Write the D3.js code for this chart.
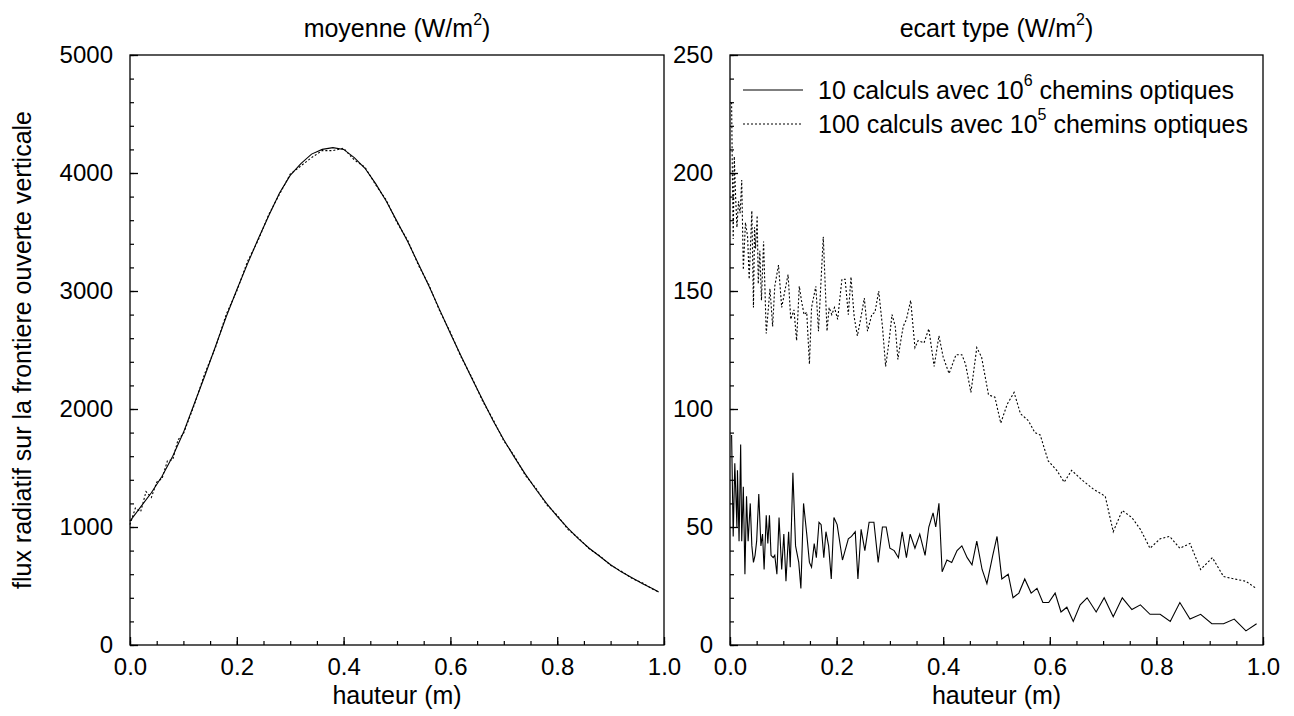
<!DOCTYPE html>
<html><head><meta charset="utf-8">
<script src="https://cdn.jsdelivr.net/npm/d3@7"></script>
<style>
html,body{margin:0;padding:0;background:#fff;}
text{font-family:"Liberation Sans",Arial,Helvetica,sans-serif;fill:#000;}
</style></head>
<body>
<svg id="chart" width="1294" height="716"></svg>
<script>
// ---------- DATA ----------
const xTickLabels = ["0.0","0.2","0.4","0.6","0.8","1.0"];
const xTicks = [0,0.2,0.4,0.6,0.8,1.0];
const yTicksLeft = [0,1000,2000,3000,4000,5000];
const yTicksRight = [0,50,100,150,200,250];

const titleLeft = "moyenne (W/m";
const titleRight = "ecart type (W/m";
const xLabel = "hauteur (m)";
const yLabel = "flux radiatif sur la frontiere ouverte verticale";
const legendLabels = [["10 calculs avec 10","6"," chemins optiques"],["100 calculs avec 10","5"," chemins optiques"]];

// mean flux, 10 runs x 1e6 paths (solid)
const meanSolidH = [0,0.02,0.04,0.06,0.08,0.10,0.12,0.14,0.16,0.18,0.20,0.22,0.24,0.26,0.28,0.30,0.32,0.34,0.36,0.38,0.40,0.42,0.44,0.46,0.48,0.50,0.52,0.54,0.56,0.58,0.60,0.62,0.64,0.66,0.68,0.70,0.72,0.74,0.76,0.78,0.80,0.82,0.84,0.86,0.88,0.90,0.92,0.94,0.96,0.98,0.99];
const meanSolid  = [1050,1170,1290,1430,1600,1800,2040,2280,2530,2780,3010,3230,3440,3640,3830,3980,4080,4160,4200,4215,4200,4130,4040,3910,3760,3590,3420,3230,3040,2840,2640,2450,2260,2080,1900,1740,1590,1450,1320,1200,1090,990,900,820,750,680,620,570,520,475,450];
// mean flux, 100 runs x 1e5 paths (dotted)
const meanDottedH = [0,0.01,0.02,0.03,0.04,0.05,0.06,0.07,0.08,0.09,0.10,0.12,0.14,0.16,0.18,0.20,0.22,0.24,0.26,0.28,0.30,0.32,0.34,0.36,0.38,0.40,0.42,0.44,0.46,0.48,0.50,0.52,0.54,0.56,0.58,0.60,0.62,0.64,0.66,0.68,0.70,0.72,0.74,0.76,0.78,0.80,0.82,0.84,0.86,0.88,0.90,0.92,0.94,0.96,0.98,0.99];
const meanDotted  = [1020,1160,1130,1300,1250,1380,1410,1560,1570,1740,1790,2030,2300,2520,2800,3000,3250,3430,3650,3820,3990,4060,4130,4190,4190,4210,4110,4050,3900,3770,3580,3430,3220,3050,2830,2650,2440,2270,2070,1910,1730,1600,1440,1330,1190,1100,980,905,815,755,675,625,565,525,470,450];

// standard deviation, 10 runs x 1e6 paths (solid)
const stdSolidH = [0.003,0.006,0.009,0.013,0.014,0.017,0.020,0.022,0.025,0.028,0.031,0.034,0.038,0.041,0.044,0.047,0.050,0.054,0.058,0.061,0.064,0.068,0.071,0.074,0.077,0.081,0.084,0.088,0.092,0.097,0.101,0.105,0.110,0.113,0.118,0.123,0.129,0.133,0.138,0.144,0.149,0.153,0.158,0.162,0.167,0.171,0.176,0.180,0.185,0.190,0.195,0.201,0.211,0.222,0.228,0.235,0.240,0.246,0.253,0.261,0.270,0.278,0.286,0.293,0.300,0.308,0.316,0.323,0.331,0.338,0.347,0.356,0.366,0.373,0.381,0.386,0.392,0.398,0.407,0.416,0.426,0.435,0.445,0.454,0.463,0.473,0.482,0.493,0.501,0.510,0.522,0.531,0.542,0.553,0.565,0.576,0.587,0.598,0.610,0.621,0.632,0.644,0.657,0.670,0.687,0.702,0.719,0.736,0.754,0.770,0.788,0.807,0.826,0.844,0.863,0.883,0.904,0.926,0.946,0.968,0.988];
const stdSolid  = [89,46,77,50,74,44,85,44,67,30,63,44,60,42,35,38,44,64,42,47,32,55,43,55,38,37,38,30,54,32,47,27,48,33,73,42,35,24,60,47,35,33,43,37,52,51,37,48,42,28,54,51,36,45,46,48,28,49,40,52,52,35,50,50,41,40,37,48,37,47,41,47,38,50,56,50,60,31,36,35,40,42,37,34,44,32,26,38,46,28,30,20,22,28,22,24,18,18,22,14,16,10,17,20,14,20,12,20,15,17,13,13,10,18,11,13,9,9,11,6,9];
// standard deviation, 100 runs x 1e5 paths (dotted)
const stdDottedH = [0.003,0.004,0.006,0.008,0.010,0.013,0.016,0.019,0.022,0.025,0.029,0.033,0.036,0.041,0.044,0.046,0.048,0.051,0.053,0.056,0.059,0.063,0.068,0.071,0.075,0.080,0.084,0.091,0.097,0.102,0.109,0.114,0.120,0.125,0.130,0.134,0.139,0.144,0.149,0.153,0.161,0.166,0.175,0.182,0.186,0.191,0.196,0.202,0.210,0.216,0.222,0.227,0.233,0.239,0.245,0.252,0.258,0.266,0.272,0.279,0.286,0.292,0.298,0.304,0.310,0.315,0.319,0.325,0.331,0.339,0.347,0.353,0.364,0.373,0.383,0.392,0.400,0.411,0.424,0.435,0.442,0.452,0.463,0.472,0.485,0.497,0.508,0.520,0.533,0.545,0.560,0.572,0.582,0.597,0.613,0.627,0.641,0.660,0.682,0.704,0.719,0.736,0.754,0.770,0.788,0.807,0.825,0.844,0.863,0.883,0.905,0.926,0.946,0.968,0.987];
const stdDotted  = [230,209,172,207,193,177,188,183,197,159,179,173,155,184,143,177,168,182,153,167,146,171,132,140,151,135,152,161,143,149,157,138,142,129,152,146,140,141,119,143,152,133,173,133,143,140,143,138,155,155,140,156,139,131,138,147,133,140,141,150,135,118,128,140,135,121,127,135,138,146,126,129,128,134,118,131,122,115,123,123,119,107,126,122,106,105,94,102,107,98,95,90,89,78,74,69,74,70,66,63,48,57,54,49,41,45,46,41,43,32,37,29,28,27,24];

// ---------- DRAW ----------
const svg = d3.select("#chart");
const plotTop = 55, plotBottom = 645;
const panels = [
  {x0:130, x1:664, ymax:5000, yTicks:yTicksLeft, minorStep:200, title:titleLeft,
   series:[{h:meanSolidH,v:meanSolid,dash:null},{h:meanDottedH,v:meanDotted,dash:"2,2"}]},
  {x0:730, x1:1263, ymax:250, yTicks:yTicksRight, minorStep:10, title:titleRight,
   series:[{h:stdSolidH,v:stdSolid,dash:null},{h:stdDottedH,v:stdDotted,dash:"2,2"}]}
];
const FS_TICK = 24, FS = 25, FS_SUP = 16;

panels.forEach((p,pi)=>{
  const x = d3.scaleLinear().domain([0,1]).range([p.x0,p.x1]);
  const y = d3.scaleLinear().domain([0,p.ymax]).range([plotBottom,plotTop]);
  const g = svg.append("g");

  g.append("rect").attr("x",p.x0).attr("y",plotTop).attr("width",p.x1-p.x0).attr("height",plotBottom-plotTop)
   .attr("fill","none").attr("stroke","#000").attr("stroke-width",1.3);

  const xMinor = d3.range(0,1.0001,0.05);
  g.append("g").attr("transform",`translate(0,${plotBottom})`)
   .call(d3.axisBottom(x).tickValues(xMinor).tickSizeInner(-4).tickSizeOuter(0).tickFormat(""))
   .call(s=>s.select(".domain").remove())
   .call(s=>s.selectAll("line").attr("stroke","#000").attr("stroke-width",1.2));
  const yMinor = d3.range(0,p.ymax+0.001,p.minorStep);
  g.append("g").attr("transform",`translate(${p.x0},0)`)
   .call(d3.axisLeft(y).tickValues(yMinor).tickSizeInner(-4).tickSizeOuter(0).tickFormat(""))
   .call(s=>s.select(".domain").remove())
   .call(s=>s.selectAll("line").attr("stroke","#000").attr("stroke-width",1.2));

  g.append("g").attr("transform",`translate(0,${plotBottom})`)
   .call(d3.axisBottom(x).tickValues(xTicks).tickSizeInner(-8).tickSizeOuter(0).tickPadding(13)
        .tickFormat((d,i)=>xTickLabels[i]))
   .call(s=>s.select(".domain").remove())
   .call(s=>s.selectAll("line").attr("stroke","#000").attr("stroke-width",1.3))
   .call(s=>s.selectAll("text").attr("font-size",FS_TICK).attr("font-family",null).attr("fill","#000"));
  g.append("g").attr("transform",`translate(${p.x0},0)`)
   .call(d3.axisLeft(y).tickValues(p.yTicks).tickSizeInner(-8).tickSizeOuter(0).tickPadding(17)
        .tickFormat(d=>String(d)))
   .call(s=>s.select(".domain").remove())
   .call(s=>s.selectAll("line").attr("stroke","#000").attr("stroke-width",1.3))
   .call(s=>s.selectAll("text").attr("font-size",FS_TICK).attr("font-family",null).attr("fill","#000"));

  p.series.forEach(s=>{
    const pts = s.h.map((h,i)=>[h,s.v[i]]);
    const line = d3.line().x(d=>x(d[0])).y(d=>y(d[1]));
    const path = g.append("path").datum(pts).attr("d",line)
      .attr("fill","none").attr("stroke","#000").attr("stroke-width",1.1);
    if (s.dash) path.attr("stroke-dasharray",s.dash);
  });

  const cx = (p.x0+p.x1)/2;
  const t = g.append("text").attr("x",cx).attr("y",37).attr("text-anchor","middle").attr("font-size",FS);
  t.append("tspan").text(p.title);
  t.append("tspan").attr("font-size",FS_SUP).attr("dy",-12).text("2");
  t.append("tspan").attr("dy",12).text(")");

  g.append("text").attr("x",cx).attr("y",704).attr("text-anchor","middle").attr("font-size",FS).text(xLabel);
});

svg.append("text").attr("transform","translate(31,350) rotate(-90)").attr("text-anchor","middle")
  .attr("font-size",FS).text(yLabel);

const lg = svg.append("g");
legendLabels.forEach((parts,i)=>{
  const ly = 90 + i*34;
  lg.append("line").attr("x1",743).attr("x2",803).attr("y1",ly).attr("y2",ly)
    .attr("stroke","#000").attr("stroke-width",1.1).attr("stroke-dasharray",i===1?"2,2":null);
  const t = lg.append("text").attr("x",818).attr("y",ly+9).attr("font-size",FS);
  t.append("tspan").text(parts[0]);
  t.append("tspan").attr("font-size",FS_SUP).attr("dy",-13).text(parts[1]);
  t.append("tspan").attr("dy",13).text(parts[2]);
});
</script>
</body></html>
